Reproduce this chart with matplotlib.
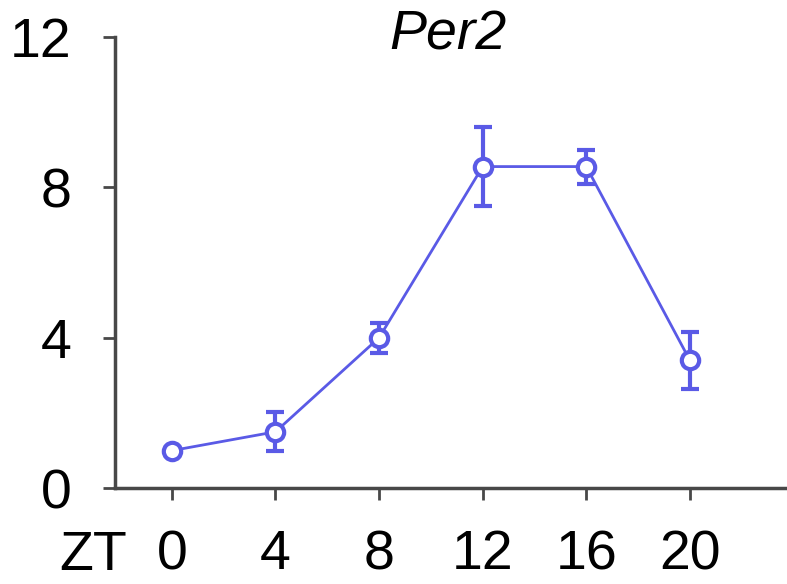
import matplotlib
matplotlib.use("Agg")
import matplotlib.pyplot as plt

plt.rcParams['font.family'] = ['Liberation Sans', 'DejaVu Sans']

# Per2 expression over zeitgeber time
zt = [0, 4, 8, 12, 16, 20]
per2 = [1.0, 1.5, 4.0, 8.55, 8.55, 3.4]
per2_err = [0.0, 0.52, 0.4, 1.05, 0.45, 0.75]
yticks = [0, 4, 8, 12]

blue = '#5a5ae6'
grey = '#484848'

fig = plt.figure(figsize=(7.87, 5.84), dpi=100)
ax = fig.add_axes([0.146, 0.164, 0.854, 0.773])

ax.errorbar(zt, per2, yerr=per2_err, color=blue, lw=2, marker='o', ms=12.5,
            mfc='white', mec=blue, mew=3, ecolor=blue, elinewidth=3,
            capsize=6.5, capthick=3, zorder=3)

ax.set_xlim(-2.2, 23.75)
ax.set_ylim(0, 12)
ax.set_xticks(zt)
ax.set_yticks(yticks)

for s in ['top', 'right']:
    ax.spines[s].set_visible(False)
for s in ['left', 'bottom']:
    ax.spines[s].set_color(grey)
    ax.spines[s].set_linewidth(2.5)

ax.tick_params(axis='both', colors=grey, width=2, length=8.5, labelsize=40,
               labelcolor='black')
ax.tick_params(axis='y', pad=23)
ax.tick_params(axis='x', pad=21)

# "ZT" label sits on the same line as the x tick labels
ax.text(-1.74, -0.182, 'ZT', transform=ax.get_xaxis_transform(), ha='right',
        va='baseline', fontsize=40)

ax.text(0.495, 0.971, 'Per2', transform=ax.transAxes, ha='center',
        va='baseline', fontsize=40, style='italic')

fig.savefig('out.png', dpi=100)
